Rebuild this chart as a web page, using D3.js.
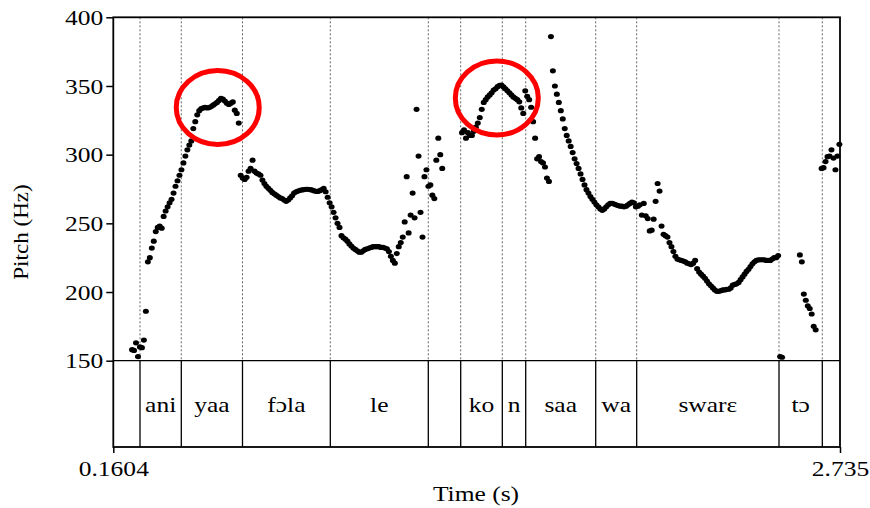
<!DOCTYPE html>
<html>
<head>
<meta charset="utf-8">
<script src="https://cdn.jsdelivr.net/npm/d3@7"></script>
<style>
  html, body { margin: 0; padding: 0; background: #fff; }
  svg { display: block; }
  text { font-family: "Times New Roman", "Liberation Serif", Times, serif; fill: #000; }
</style>
</head>
<body>
<div class="canvas"></div>
<script>
//////// pitch track (Praat frames, 7 ms apart) ////////
const frameStep = 0.007;

// ani + yaa
const startAniYaa = 0.2268;
const hzAniYaa = [158, 157.5, 163, 153, 160, 159.5, 165, 186, 222, 225,
  232, 237, 244, 247, 248, 246.5, 255, 259, 262, 265,
  267.5, 272, 277, 281, 285, 289, 294, 299, 303.5, 307,
  310, 319, 324, 329, 332, 333.5, 334, 334.5, 334, 334.3,
  335, 336, 337, 338, 339.5, 341, 340.5, 339, 337.5, 336.5,
  337.5, 338.4, 332.4, 330, 323];

// fɔla + le
const startFolaLe = 0.6118;
const hzFolaLe = [285, 283, 282, 283.5, 288, 290, 296, 288, 286.5, 286,
  285, 281.5, 279, 277, 275.5, 274, 272.5, 271.5, 270.5, 269.5,
  268.5, 268, 267, 266, 267, 268.5, 270, 272, 273, 273.5,
  274, 274.3, 274.6, 274.8, 274.8, 274.6, 274.3, 273.8, 273.3, 273.2,
  273.8, 274.5, 275.5, 273, 269, 265, 262, 258, 254, 250,
  247, 241, 239.5, 238.5, 237, 235, 233.5, 232, 231, 230,
  229, 229, 230, 231, 231.5, 232, 232.5, 233, 233, 233,
  233, 232.5, 232.5, 232, 231.5, 229.5, 226, 223, 221, 228,
  233, 236, 240, 251, 284, 243, 256, 272, 254, 333,
  299, 258, 240, 284, 289, 277, 278, 270.5, 268, 296,
  312, 300, 290];

// ko + n
const startKoN = 1.3958;
const hzKoN = [316, 318, 312, 316, 314, 314, 317, 320, 323, 327,
  333, 338, 340, 342, 343.5, 345, 347, 348, 349.5, 350.5,
  350.6, 349.3, 348, 346.5, 345, 343.5, 342, 341, 340, 338.5,
  334, 330, 346.5, 342.5, 340, 334.5, 324, 312, 297, 298.5,
  295, 294, 291, 283, 280.5];

// saa + wa + swarɛ
const startSaaSware = 1.7108;
const hzSaaSware = [386, 361, 350, 344, 338, 332, 326, 319, 314, 310,
  306, 301.5, 297, 293.5, 290, 286, 282, 278, 274.5, 272,
  269.5, 267.5, 265.5, 263.5, 262, 260.5, 259.5, 260.5, 262, 263.5,
  264.5, 264.5, 264, 263.5, 263, 262.5, 262.5, 262, 262.5, 263.5,
  264.5, 265.5, 265, 262, 262.5, 263.5, 256, 264.5, 255.5, 253.5,
  244.5, 245, 253, 266, 279, 273.5, 248, 242, 241, 240,
  236, 233, 229.5, 226, 224, 223.5, 223, 222.5, 222, 221,
  220.5, 220, 221, 223, 217, 214.5, 213, 211.5, 210, 208,
  206, 204.5, 203, 201.5, 200.5, 200.5, 201, 201.5, 201.5, 202,
  202, 203, 205, 205.5, 206, 207, 209, 211, 213, 215,
  216.5, 218.5, 220.5, 222, 223, 223.5, 223.5, 223.5, 223.5, 223,
  223, 223, 224, 225, 225, 226.5];

// creak at the tɔ boundary
const startCreak = 2.5228;
const hzCreak = [153, 152.5];

// tɔ
const startTo = 2.5928;
const hzTo = [227, 222, 198.5, 194, 190, 188, 184, 175, 172.5];

// final syllable
const startFinal = 2.6698;
const hzFinal = [290, 290.5, 295, 298.5, 299, 303.5, 297.5, 289, 299, 307.5];

//////// text tier ////////
const tierBounds = [0.1604, 0.2550, 0.4013, 0.6181, 0.9292, 1.2764, 1.3912,
  1.5386, 1.6215, 1.8695, 2.0147, 2.5189, 2.6723, 2.735];
const tierLabels = ["", "ani", "yaa", "fɔla", "le", "", "ko", "n", "saa",
  "wa", "swarɛ", "tɔ", ""];

//////// axes ////////
const pitchTicks = [150, 200, 250, 300, 350, 400];
const timeTicks = [0.1604, 2.735];
const timeTickLabels = ["0.1604", "2.735"];

// the two red rings (centre in time / Hz)
const ringTimes = [0.5304, 1.5191];
const ringHz = [334.3, 341.3];

/////////////////////////////////////////////////////
// layout
const W = 870, H = 508;
const plot = { left: 113.3, right: 840, top: 17.3, pitchBottom: 360.7, tierBottom: 447 };
const stretch = 1.16; // the original type is a bit wide
const serif = '"Times New Roman", "Liberation Serif", Times, serif';

const svg = d3.select('.canvas')
  .append('svg')
  .attr('width', W)
  .attr('height', H);

const x = d3.scaleLinear().domain([0.1604, 2.735]).range([plot.left, plot.right]);
const y = d3.scaleLinear().domain([150, 400]).range([plot.pitchBottom, plot.top]);

// build frames from the segments
const segments = [
  [startAniYaa, hzAniYaa], [startFolaLe, hzFolaLe], [startKoN, hzKoN],
  [startSaaSware, hzSaaSware], [startCreak, hzCreak], [startTo, hzTo], [startFinal, hzFinal]
];
const frames = [];
segments.forEach(([t0, hz]) => {
  hz.forEach((v, i) => frames.push({ t: t0 + i * frameStep, hz: v }));
});

// dotted interval boundaries in the pitch area
const inner = tierBounds.slice(1, -1);
svg.append('g')
  .selectAll('line')
  .data(inner)
  .enter().append('line')
  .attr('x1', d => x(d)).attr('x2', d => x(d))
  .attr('y1', plot.top).attr('y2', plot.pitchBottom)
  .attr('stroke', '#555')
  .attr('stroke-width', 0.9)
  .attr('stroke-dasharray', '2,2');

// solid boundaries in the tier
svg.append('g')
  .selectAll('line')
  .data(inner)
  .enter().append('line')
  .attr('x1', d => x(d)).attr('x2', d => x(d))
  .attr('y1', plot.pitchBottom).attr('y2', plot.tierBottom)
  .attr('stroke', '#000')
  .attr('stroke-width', 1.3);

// tier labels, centred in each interval
const intervals = tierLabels.map((lab, i) => ({ lab, a: tierBounds[i], b: tierBounds[i + 1] }));
svg.append('g')
  .selectAll('text')
  .data(intervals.filter(d => d.lab))
  .enter().append('text')
  .attr('transform', d => `translate(${(x(d.a) + x(d.b)) / 2},412) scale(${stretch},1)`)
  .attr('text-anchor', 'middle')
  .attr('font-family', serif)
  .attr('font-size', 22)
  .text(d => d.lab);

// pitch points (slightly wide, like the original)
svg.append('g')
  .selectAll('ellipse')
  .data(frames)
  .enter().append('ellipse')
  .attr('cx', d => x(d.t))
  .attr('cy', d => y(d.hz))
  .attr('rx', 3)
  .attr('ry', 2.6)
  .attr('fill', '#000');

// frame
svg.append('line').attr('x1', plot.left).attr('x2', plot.right)
  .attr('y1', plot.pitchBottom).attr('y2', plot.pitchBottom)
  .attr('stroke', '#000').attr('stroke-width', 1.2);
svg.append('rect')
  .attr('x', plot.left).attr('y', plot.top)
  .attr('width', plot.right - plot.left)
  .attr('height', plot.tierBottom - plot.top)
  .attr('fill', 'none')
  .attr('stroke', '#000')
  .attr('stroke-width', 1.8);

// y axis
const yAxis = svg.append('g')
  .attr('transform', `translate(${plot.left},0)`)
  .call(d3.axisLeft(y).tickValues(pitchTicks).tickSize(7).tickSizeOuter(0).tickFormat(d3.format('d')));
yAxis.attr('font-family', serif);
yAxis.select('.domain').remove();
yAxis.selectAll('line').attr('stroke-width', 1.5);
yAxis.selectAll('text')
  .attr('font-family', serif)
  .attr('font-size', 22)
  .attr('x', -10 / stretch)
  .attr('dy', '0.33em')
  .attr('transform', `scale(${stretch},1)`);

// x axis: only the two end points
const xAxis = svg.append('g')
  .attr('transform', `translate(0,${plot.tierBottom})`)
  .call(d3.axisBottom(x).tickValues(timeTicks).tickSize(6).tickSizeOuter(0)
    .tickFormat((d, i) => timeTickLabels[i]));
xAxis.attr('font-family', serif);
xAxis.select('.domain').remove();
xAxis.selectAll('line').attr('stroke-width', 1.5);
xAxis.selectAll('text')
  .attr('font-family', serif)
  .attr('font-size', 22)
  .attr('y', 29.5)
  .attr('dy', 0)
  .attr('transform', `scale(${stretch},1)`)
  .attr('x', 0);

// axis titles
svg.append('text')
  .attr('transform', `translate(476,501) scale(${stretch},1)`)
  .attr('text-anchor', 'middle')
  .attr('font-family', serif)
  .attr('font-size', 22)
  .text('Time (s)');

svg.append('text')
  .attr('transform', `translate(28,232) rotate(-90) scale(1.05,1)`)
  .attr('text-anchor', 'middle')
  .attr('font-family', serif)
  .attr('font-size', 22)
  .text('Pitch (Hz)');

// red rings
svg.append('g')
  .selectAll('ellipse')
  .data(ringTimes.map((t, i) => ({ t, hz: ringHz[i] })))
  .enter().append('ellipse')
  .attr('cx', d => x(d.t))
  .attr('cy', d => y(d.hz))
  .attr('rx', 41.5)
  .attr('ry', 37)
  .attr('fill', 'none')
  .attr('stroke', '#f00')
  .attr('stroke-width', 5);
</script>
</body>
</html>
